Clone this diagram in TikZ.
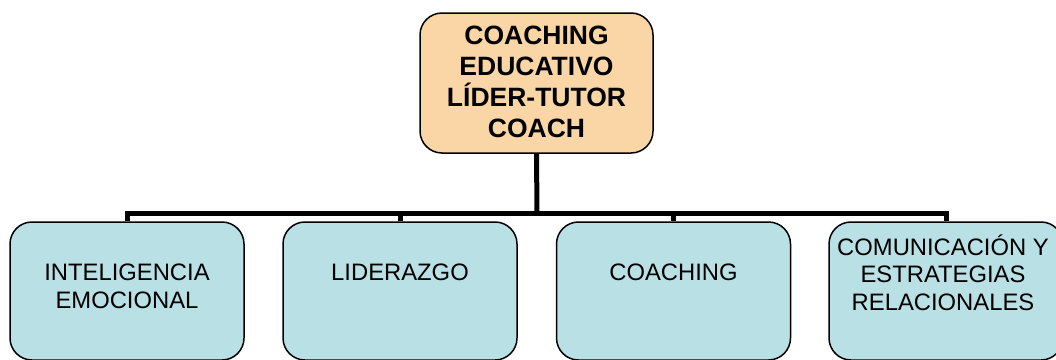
\documentclass[tikz,border=0pt]{standalone}
\usepackage{fontspec}
\setmainfont{Liberation Sans}
\definecolor{peach}{RGB}{250,214,166}
\definecolor{lblue}{RGB}{185,224,228}
\begin{document}
\begin{tikzpicture}[x=1pt,y=-1pt,
  topbox/.style={draw=black,line width=1.5pt,fill=peach,rounded corners=22pt,minimum width=233pt,minimum height=140pt,inner sep=0pt},
  subbox/.style={draw=black,line width=1.5pt,fill=lblue,rounded corners=22pt,minimum width=234pt,minimum height=138pt,inner sep=0pt},
  toptext/.style={font=\bfseries\fontsize{26.5}{31}\selectfont,align=center,inner sep=0pt},
  subtext/.style={font=\fontsize{23.8}{27.5}\selectfont,align=center,inner sep=0pt},
  conn/.style={line width=5pt}]
\useasboundingbox (0,0) rectangle (1056,359);
\node[topbox] (top) at (536.5,83) {};
\node[toptext] (toplbl) at (536.5,82) {COACHING\\EDUCATIVO\\LÍDER-TUTOR\\COACH};
\node[subbox] (b1) at (127,291) {};
\node[subbox] (b2) at (400,291) {};
\node[subbox] (b3) at (673.5,291) {};
\node[subbox] (b4) at (946,291) {};
\node[subtext] (t1) at (127,286.5) {INTELIGENCIA\\EMOCIONAL};
\node[subtext] (t2) at (400,272.5) {LIDERAZGO};
\node[subtext] (t3) at (673.5,272.5) {COACHING};
\node[subtext] (t4) at (943,272.5) {COMUNICACIÓN Y\\ESTRATEGIAS\\RELACIONALES};
\coordinate (bar) at (537,213);
\draw[conn] (top.south) -- (bar);
\draw[conn,line cap=rect] (b1.north |- bar) -- (b4.north |- bar);
\draw[conn] (b1.north |- bar) -- (b1.north);
\draw[conn] (b2.north |- bar) -- (b2.north);
\draw[conn] (b3.north |- bar) -- (b3.north);
\draw[conn] (b4.north |- bar) -- (b4.north);
\end{tikzpicture}
\end{document}
